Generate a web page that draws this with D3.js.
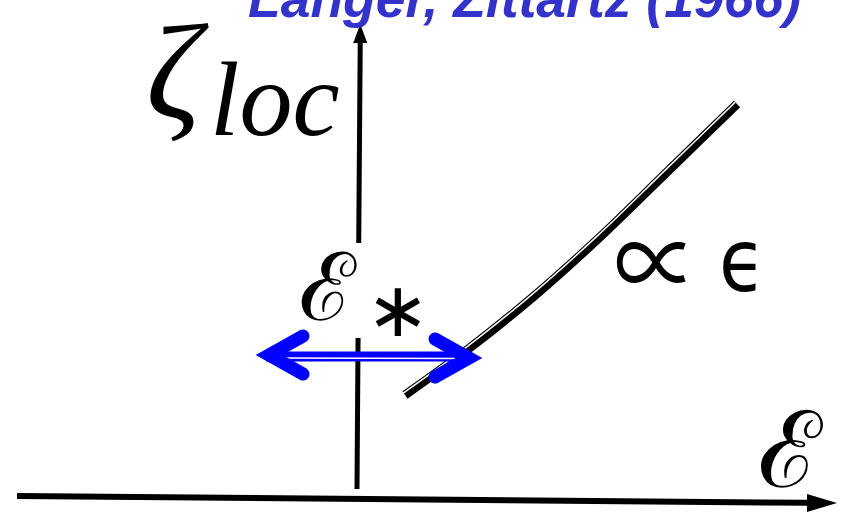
<!DOCTYPE html>
<html>
<head>
<meta charset="utf-8">
<script src="https://cdn.jsdelivr.net/npm/d3@7"></script>
<style>
  html, body { margin: 0; padding: 0; background: #fff; }
  svg { display: block; }
</style>
</head>
<body>
<svg id="chart" width="843" height="517"></svg>
<script>
// Localisation length vs. energy: linear branch above the band edge
const epsCurve  = [0.48, 1.10, 1.76, 2.43, 3.10, 3.80];
const zetaCurve = [1.00, 1.45, 1.98, 2.58, 3.23, 3.91];

// Width of the crossover window around the band edge (double arrow)
const epsStarTips  = [-1.01, 1.25];
const epsStarLevel = [1.40, 1.37];

// Axis extents and the break in the vertical axis
const axisEpsRange  = [-3.4, 4.8];
const axisZetaRange = [0.06, 4.71];
const axisGap       = [1.57, 2.52];

// Text
const titleText = "Langer, Zittartz (1966)";
const yLabel    = ["ζ", "loc"];
const xLabel    = "ℰ";
const starLabel = ["ℰ", "∗"];
const slopeLabel = ["∝", "ϵ"];

const svg = d3.select("#chart");
const W = 843, H = 517;

svg.append("rect").attr("width", W).attr("height", H).attr("fill", "#fff");

const x = d3.scaleLinear().domain([-3.4, 4.8]).range([17, 837]);
const y = d3.scaleLinear().domain([0, 4.9]).range([495, 5]);

// ---- horizontal axis (slightly tilted) ----
const hAxis = svg.append("g");
const hx0 = x(axisEpsRange[0]), hx1 = x(axisEpsRange[1]);
const hy0 = 496, hy1 = 503;
hAxis.append("line")
  .attr("x1", hx0).attr("y1", hy0)
  .attr("x2", hx1 - 28).attr("y2", hy1 - 0.2)
  .attr("stroke", "#000").attr("stroke-width", 6);
hAxis.append("path")
  .attr("d", `M${hx1},${hy1} L${hx1 - 30},${hy1 - 9} L${hx1 - 30},${hy1 + 9} Z`)
  .attr("fill", "#000");

// ---- vertical axis, broken where the ε* label sits ----
const vx = ζ => x(0) + (ζ - axisZetaRange[0]) * 0.7;
const vAxis = svg.append("g");
vAxis.append("line")
  .attr("x1", vx(axisZetaRange[0])).attr("y1", y(axisZetaRange[0]))
  .attr("x2", vx(axisGap[0])).attr("y2", y(axisGap[0]))
  .attr("stroke", "#000").attr("stroke-width", 5);
vAxis.append("line")
  .attr("x1", vx(axisGap[1])).attr("y1", y(axisGap[1]))
  .attr("x2", vx(axisZetaRange[1]) ).attr("y2", y(axisZetaRange[1]) + 14)
  .attr("stroke", "#000").attr("stroke-width", 5);
{
  const tx = vx(axisZetaRange[1]), ty = y(axisZetaRange[1]);
  vAxis.append("path")
    .attr("d", `M${tx},${ty} L${tx - 7},${ty + 19} L${tx + 7},${ty + 19} Z`)
    .attr("fill", "#000");
}

// ---- the ζ_loc ∝ ε branch, drawn as a double rule ----
const pts = epsCurve.map((e, i) => [x(e), y(zetaCurve[i])]);
const line = d3.line().curve(d3.curveCatmullRom.alpha(0.5));
svg.append("path")
  .attr("d", line(pts))
  .attr("fill", "none").attr("stroke", "#000").attr("stroke-width", 9)
  .attr("stroke-linecap", "butt");
svg.append("path")
  .attr("d", line(pts))
  .attr("transform", "translate(-1.8,-1.9)")
  .attr("fill", "none").attr("stroke", "#fff").attr("stroke-width", 1.5);

// ---- double arrow marking ε* ----
const ax0 = x(epsStarTips[0]), ay0 = y(epsStarLevel[0]);
const ax1 = x(epsStarTips[1]), ay1 = y(epsStarLevel[1]);
const blue = "#0000ff";
const arrow = svg.append("g");
arrow.append("line")
  .attr("x1", ax0 + 10).attr("y1", ay0 + 1.5)
  .attr("x2", ax1 - 10).attr("y2", ay1 - 1.5)
  .attr("stroke", blue).attr("stroke-width", 10);
arrow.append("line")
  .attr("x1", ax0 + 20).attr("y1", ay0 + 3)
  .attr("x2", ax1 - 20).attr("y2", ay1 + 0.5)
  .attr("stroke", "#fff").attr("stroke-width", 1.3);
function head(tx, ty, dir) {
  const vxp = tx - dir * 13;
  arrow.append("path")
    .attr("d", `M${vxp - dir * 34},${ty - 19} L${vxp},${ty} L${vxp - dir * 34},${ty + 19}`)
    .attr("fill", "none").attr("stroke", blue).attr("stroke-width", 13)
    .attr("stroke-linecap", "round").attr("stroke-linejoin", "miter")
    .attr("stroke-miterlimit", 6);
}
head(ax0, ay0, -1);
head(ax1, ay1, 1);

// ---- labels ----
svg.append("text")
  .attr("x", 146).attr("y", 118)
  .attr("font-family", "'Liberation Serif', serif").attr("font-style", "italic")
  .attr("font-size", 136).attr("fill", "#000")
  .text(yLabel[0]);
svg.append("text")
  .attr("x", 210).attr("y", 135)
  .attr("font-family", "'Liberation Serif', serif").attr("font-style", "italic")
  .attr("font-size", 106).attr("fill", "#000")
  .text(yLabel[1]);

svg.append("text")
  .attr("x", 299).attr("y", 320)
  .attr("font-family", "'DejaVu Serif', serif")
  .attr("font-size", 94).attr("fill", "#000")
  .text(starLabel[0]);
svg.append("text")
  .attr("x", 366).attr("y", 336)
  .attr("font-family", "'DejaVu Sans', sans-serif")
  .attr("font-size", 76).attr("fill", "#000")
  .text(starLabel[1]);

svg.append("text")
  .attr("x", 758).attr("y", 487)
  .attr("font-family", "'DejaVu Serif', serif")
  .attr("font-size", 106).attr("fill", "#000")
  .text(xLabel);

svg.append("g")
  .attr("transform", "translate(614,300) scale(1.05,1.25)")
  .append("text")
  .attr("font-family", "'Noto Sans CJK JP', sans-serif")
  .attr("font-size", 80).attr("fill", "#000")
  .text(slopeLabel[0]);
svg.append("g")
  .attr("transform", "translate(719,291) scale(1.0,1.15)")
  .append("text")
  .attr("font-family", "'DejaVu Sans', sans-serif")
  .attr("font-size", 76).attr("fill", "#000")
  .text(slopeLabel[1]);

// ---- citation ----
svg.append("text")
  .attr("x", 248).attr("y", 17)
  .attr("font-family", "'Liberation Sans', Arial, sans-serif")
  .attr("font-weight", "bold").attr("font-style", "italic")
  .attr("font-size", 53.5).attr("fill", "#3333cc")
  .text(titleText);
</script>
</body>
</html>
